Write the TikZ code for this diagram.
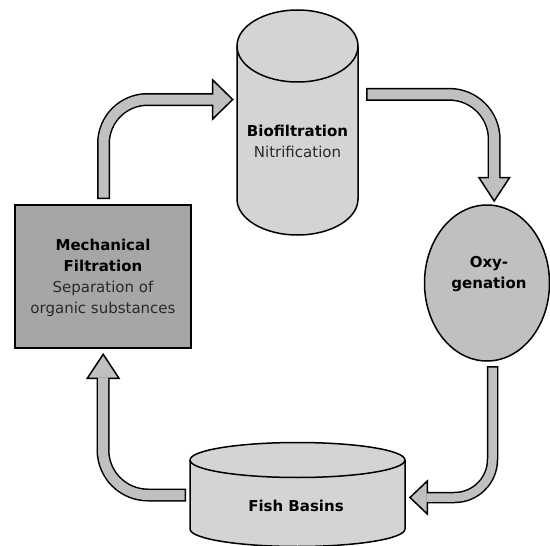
\documentclass[tikz,border=0pt]{standalone}
\usepackage{fontspec}
\setmainfont{DejaVu Sans}
\usetikzlibrary{shapes.geometric}
\definecolor{boxgray}{HTML}{A6A6A6}
\definecolor{cylgray}{HTML}{D4D4D4}
\definecolor{ovalgray}{HTML}{C0C0C0}
\definecolor{arrowgray}{HTML}{C0C0C0}
\definecolor{txtgray}{HTML}{2A2A2A}
\begin{document}
\begin{tikzpicture}[x=1pt,y=-1pt,
  outl/.style={draw=black, line width=1.5pt},
  lbl/.style={align=center, font=\fontsize{15}{21}\selectfont, text=txtgray, inner sep=0pt},
  shaftblack/.style={line width=13pt, draw=black},
  shaftfill/.style={line width=10pt, draw=arrowgray},
  headshape/.style={fill=arrowgray, draw=black, line width=1.5pt, line join=miter}]
\useasboundingbox (0,0) rectangle (550,546);

% Mechanical filtration box
\node[outl, fill=boxgray, rectangle, minimum width=176pt, minimum height=143pt, inner sep=0pt] (mech) at (103,276.5) {};
\node[lbl] (mechtxt) at (103,278) {\textbf{\color{black}Mechanical}\\\textbf{\color{black}Filtration}\\Separation of\\organic substances};

% Oxygenation ellipse
\node[outl, fill=ovalgray, ellipse, minimum width=125pt, minimum height=156pt, inner sep=0pt] (oxy) at (487,283) {};
\node[lbl, text=black] (oxytxt) at (489,274.3) {\textbf{Oxy-}\\\textbf{genation}};

% Biofiltration cylinder
\coordinate (bio) at (297.5,46);
\filldraw[fill=cylgray, outl] (237,46) -- (237,199) arc[start angle=180, end angle=0, x radius=60.5, y radius=36]
  -- (358,46) arc[start angle=0, end angle=-180, x radius=60.5, y radius=36] -- cycle;
\draw[outl] (237,46) arc[start angle=180, end angle=0, x radius=60.5, y radius=36];
\node[lbl] (biotxt) at (297.5,141.6) {\textbf{\color{black}Biofiltration}\\Nitrification};

% Fish basins cylinder
\coordinate (fish) at (297.5,460);
\filldraw[fill=cylgray, outl] (190,460) -- (190,529) arc[start angle=180, end angle=0, x radius=107.5, y radius=17.5]
  -- (405,460) arc[start angle=0, end angle=-180, x radius=107.5, y radius=17.5] -- cycle;
\draw[outl] (190,460) arc[start angle=180, end angle=0, x radius=107.5, y radius=17.5];
\node[lbl, text=black] (fishtxt) at (296,505.5) {\textbf{Fish Basins}};

% Arrow 1: mech -> bio
\coordinate (a1s) at (103.5,199);
\coordinate (a1t) at (232.7,99.5);
\draw[shaftblack] (a1s) -- (103.5,143.5) arc[start angle=180, end angle=270, radius=44] -- (213,99.5);
\draw[headshape] (212.7,80) -- (a1t) -- (212.7,119) -- cycle;
\draw[shaftfill] (103.5,197.5) -- (103.5,143.5) arc[start angle=180, end angle=270, radius=44] -- (214,99.5);

% Arrow 2: bio -> oxy
\coordinate (a2s) at (366,94.3);
\coordinate (a2t) at (494.2,201);
\draw[shaftblack] (a2s) -- (449.2,94.3) arc[start angle=270, end angle=360, radius=45] -- (494.2,177.7);
\draw[headshape] (479,177.7) -- (a2t) -- (509.5,177.7) -- cycle;
\draw[shaftfill] (367.5,94.3) -- (449.2,94.3) arc[start angle=270, end angle=360, radius=45] -- (494.2,178.8);

% Arrow 3: oxy -> fish
\coordinate (a3s) at (492.5,366);
\coordinate (a3t) at (410,497.5);
\draw[shaftblack, line width=11.5pt] (a3s) -- (492.5,459.5) arc[start angle=0, end angle=90, radius=38] -- (427.3,497.5);
\draw[headshape] (427.3,481) -- (a3t) -- (427.3,514) -- cycle;
\draw[shaftfill, line width=8.5pt] (492.5,367.5) -- (492.5,459.5) arc[start angle=0, end angle=90, radius=38] -- (426.3,497.5);

% Arrow 4: fish -> mech
\coordinate (a4s) at (186,495);
\coordinate (a4t) at (103.2,354.3);
\draw[shaftblack] (a4s) -- (148,495) arc[start angle=90, end angle=180, radius=45] -- (103.2,378.3);
\draw[headshape] (87.3,378.3) -- (a4t) -- (119,378.3) -- cycle;
\draw[shaftfill] (184.5,495) -- (148,495) arc[start angle=90, end angle=180, radius=45] -- (103.2,377.3);
\end{tikzpicture}
\end{document}
